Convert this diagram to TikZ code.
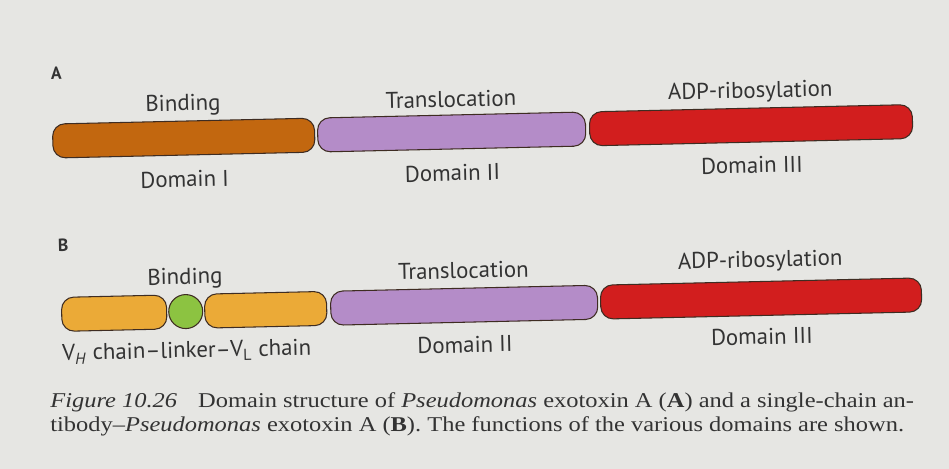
\documentclass[tikz,border=0pt]{standalone}
\usepackage{fontspec}
\setmainfont{Liberation Serif}
\setsansfont{PT Sans}
\newfontfamily\capfont[Ligatures=TeX,FakeStretch=1.16]{Liberation Serif}
\usetikzlibrary{positioning}

\definecolor{paper}{HTML}{E6E6E3}
\definecolor{ink}{HTML}{333333}
\definecolor{rim}{HTML}{3E2C22}
\definecolor{domone}{HTML}{C2670F}
\definecolor{domtwo}{HTML}{B48CC8}
\definecolor{domthree}{HTML}{D21E1E}
\definecolor{vchain}{HTML}{EBAA37}
\definecolor{linkgreen}{HTML}{8CC341}

\begin{document}
\begin{tikzpicture}[x=0.02cm,y=-0.02cm,
    segment/.style={draw=rim,line width=0.6pt,rounded corners=7pt,
                   minimum height=0.68cm,inner sep=0pt},
    linker/.style={draw=rim,line width=0.6pt,circle,fill=linkgreen,
                   minimum size=0.68cm,inner sep=0pt},
    func/.style={font=\sffamily\fontsize{13}{15}\selectfont,text=ink,inner sep=0pt},
    panel/.style={font=\sffamily\bfseries\fontsize{10}{12}\selectfont,text=ink},
    caption/.style={font=\capfont\fontsize{12}{13.8}\selectfont,text=ink,align=left,inner sep=0pt}]
  \fill[paper] (0,0) rectangle (949,469);

  % the page was photographed slightly askew
  \begin{scope}[rotate around={1.3:(475,235)},transform shape]

  % A: the wild-type toxin
  \node[panel] (labA) at (60,64) {A};
  \node[segment,fill=domone,minimum width=5.24cm] (bindA) at (186,131.5) {};
  \node[segment,fill=domtwo,minimum width=5.36cm,right=0.04cm of bindA] (transA) {};
  \node[segment,fill=domthree,minimum width=6.46cm,right=0.06cm of transA] (adpA) {};

  \node[func,on grid,above=0.66cm of bindA]  (bindAtop)  {Binding};
  \node[func,on grid,below=0.82cm of bindA]  (bindAbot)  {Domain I};
  \node[func,on grid,above=0.66cm of transA] (transAtop) {Translocation};
  \node[func,on grid,below=0.82cm of transA] (transAbot) {Domain II};
  \node[func,on grid,above=0.66cm of adpA]   (adpAtop)   {ADP-ribosylation};
  \node[func,on grid,below=0.8cm of adpA]    (adpAbot)   {Domain III};

  % B: single-chain antibody fused to domains II and III
  \node[panel] (labB) at (63,236) {B};
  \node[segment,fill=vchain,minimum width=2.1cm] (vh) at (112.5,305) {};
  \node[linker,right=0.02cm of vh] (link) {};
  \node[segment,fill=vchain,minimum width=2.44cm,right=0.02cm of link] (vl) {};
  \node[segment,fill=domtwo,minimum width=5.34cm,right=0.06cm of vl] (transB) {};
  \node[segment,fill=domthree,minimum width=6.42cm,right=0.04cm of transB] (adpB) {};

  \node[func,on grid,above=0.66cm of link]   (bindBtop)  {Binding};
  \node[func,on grid,below=0.8cm of link]    (bindBbot)  {V\textsubscript{\textit{H}} chain--linker--V\textsubscript{L} chain};
  \node[func,on grid,above=0.7cm of transB]  (transBtop) {Translocation};
  \node[func,on grid,below=0.79cm of transB] (transBbot) {Domain II};
  \node[func,on grid,above=0.74cm of adpB]   (adpBtop)   {ADP-ribosylation};
  \node[func,on grid,below=0.76cm of adpB]   (adpBbot)   {Domain III};
  \end{scope}

  % figure caption
  \node[caption,anchor=north west] (cap) at (50,392)
    {\textit{Figure 10.26}\quad Domain structure of \textit{Pseudomonas} exotoxin A (\textbf{A}) and a single-chain an-\\
     tibody--\textit{Pseudomonas} exotoxin A (\textbf{B}). The functions of the various domains are shown.};
\end{tikzpicture}
\end{document}
